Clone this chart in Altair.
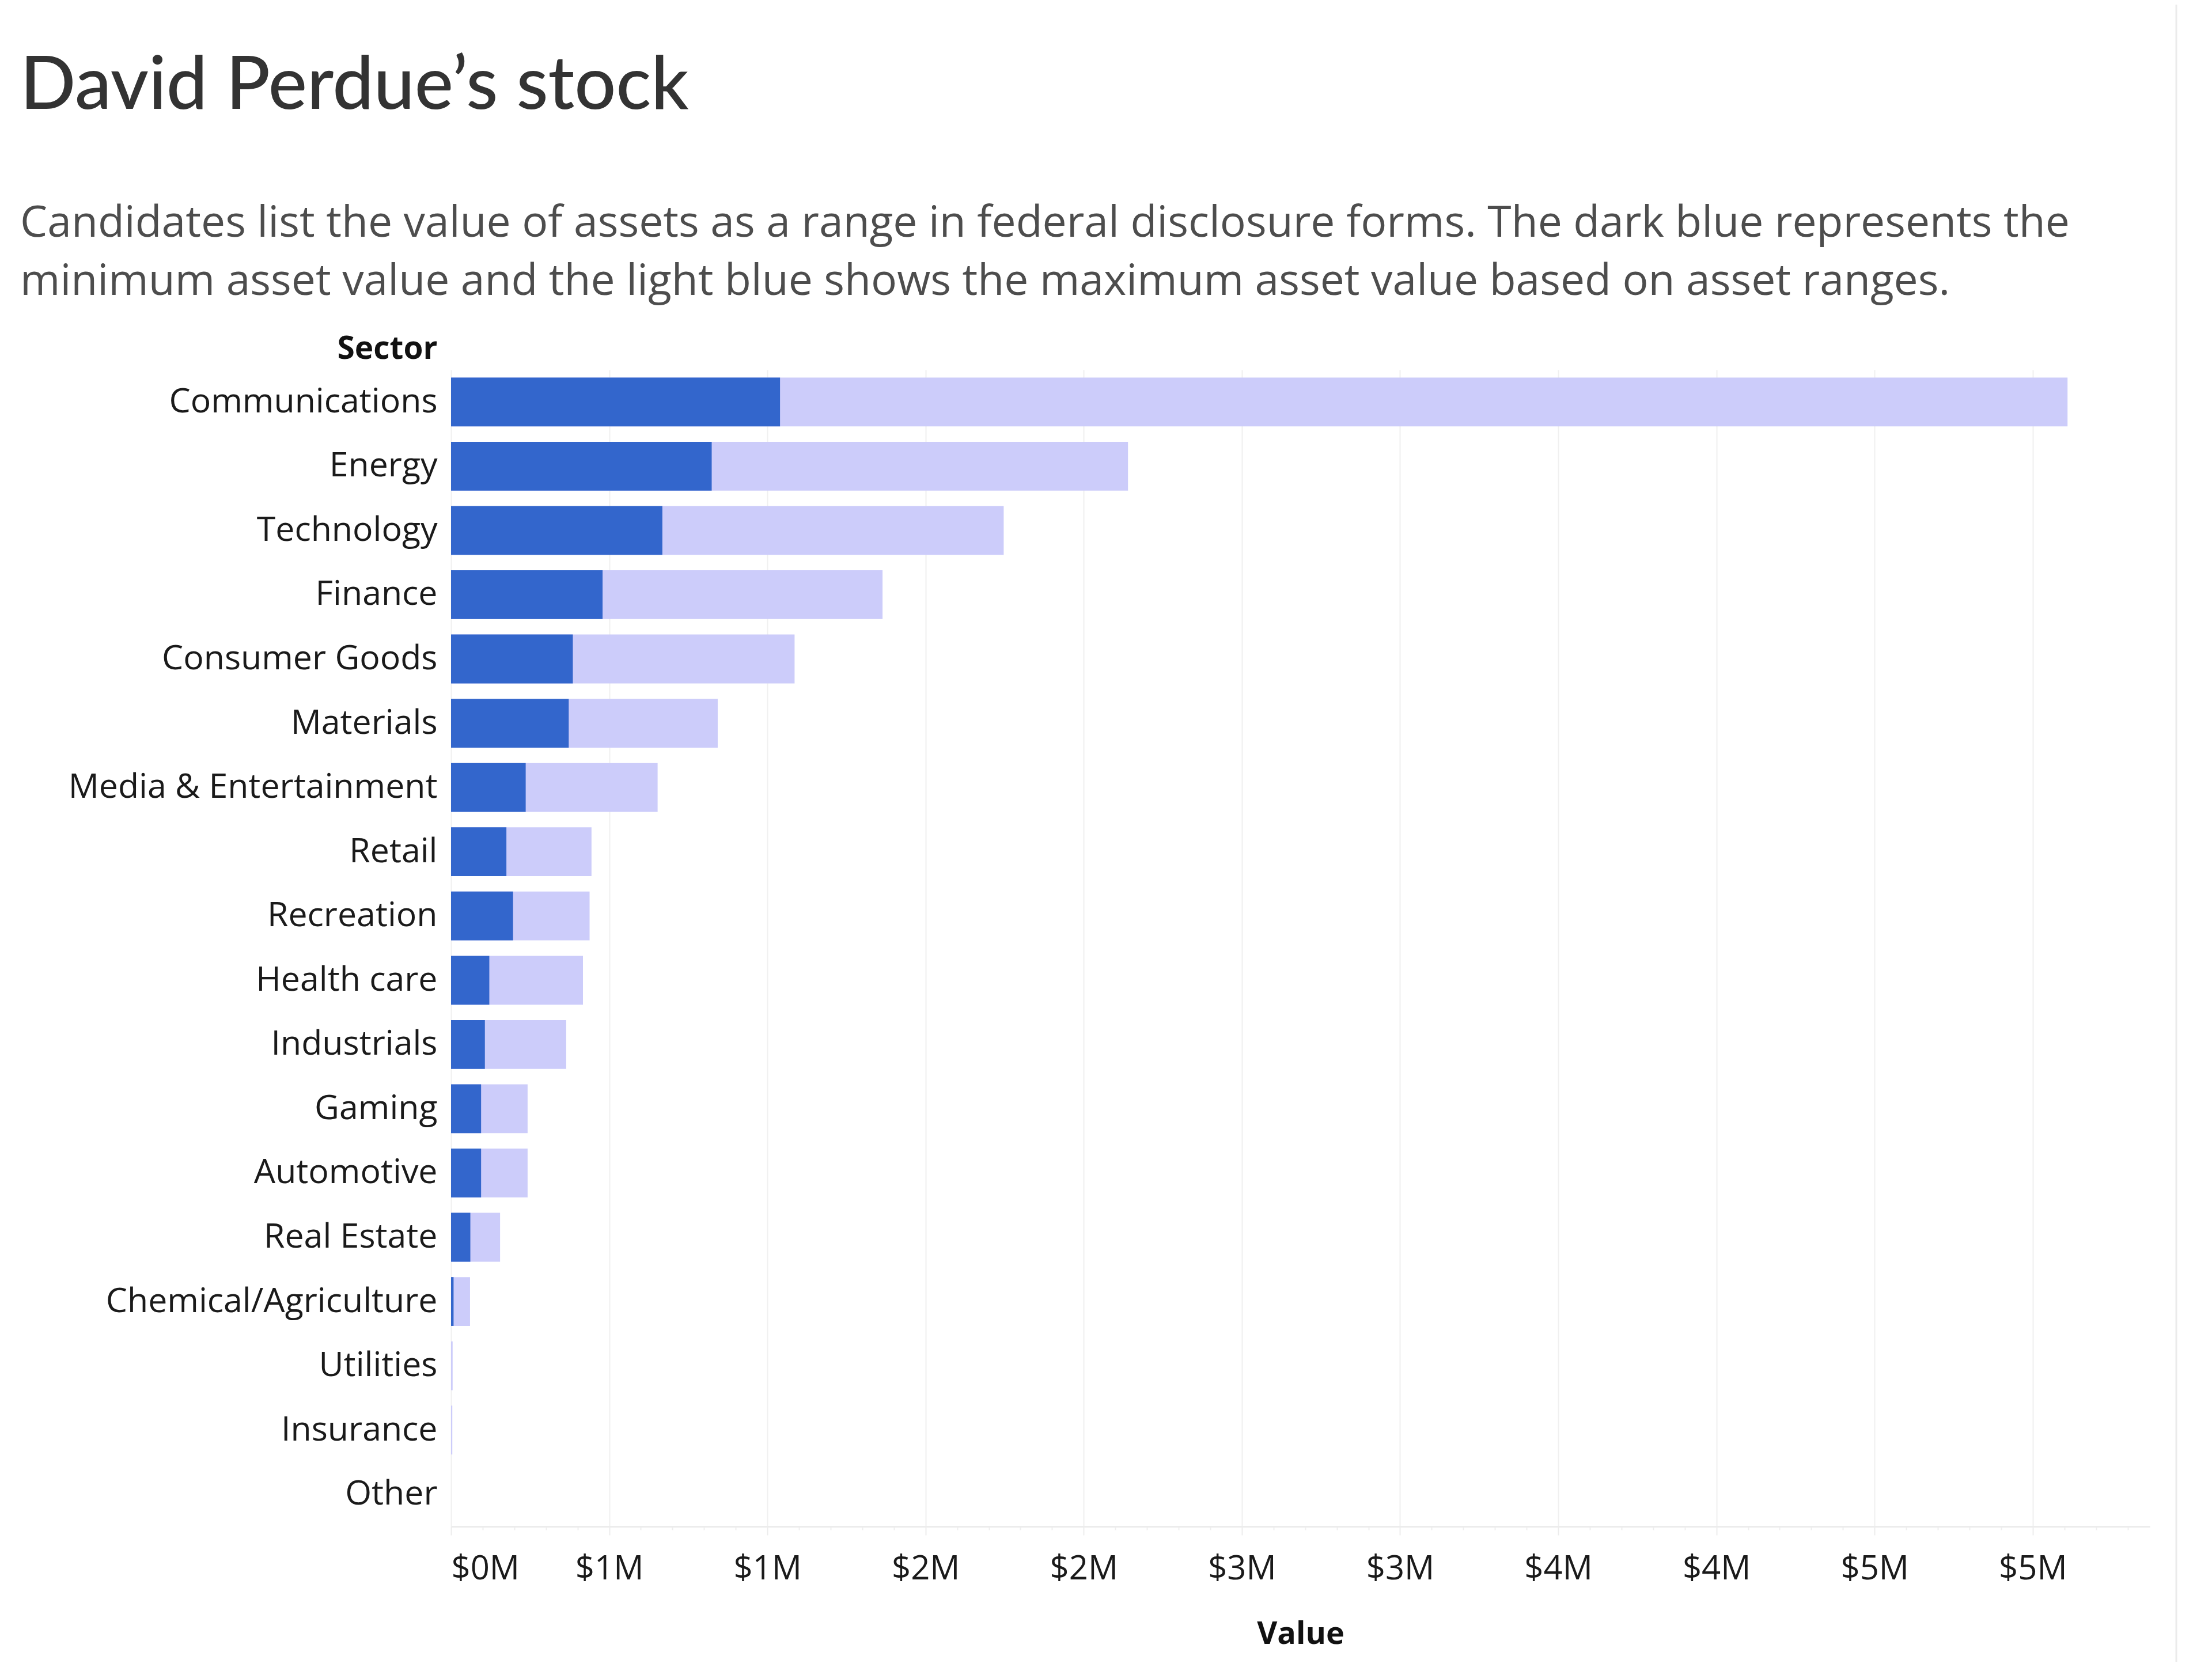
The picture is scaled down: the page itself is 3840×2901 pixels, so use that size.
import altair as alt
import pandas as pd

sectors = ["Communications", "Energy", "Technology", "Finance", "Consumer Goods",
           "Materials", "Media & Entertainment", "Retail", "Recreation", "Health care",
           "Industrials", "Gaming", "Automotive", "Real Estate", "Chemical/Agriculture",
           "Utilities", "Insurance", "Other"]
# values in millions of dollars
min_values = [1.04, 0.824, 0.668, 0.479, 0.385, 0.372, 0.236, 0.175, 0.196, 0.121,
              0.107, 0.095, 0.095, 0.061, 0.008, 0.0, 0.0, 0.0]
max_values = [5.11, 2.14, 1.747, 1.364, 1.086, 0.843, 0.653, 0.444, 0.438, 0.417,
              0.364, 0.242, 0.242, 0.155, 0.060, 0.005, 0.004, 0.0]
major_ticks = [0, 0.5, 1, 1.5, 2, 2.5, 3, 3.5, 4, 4.5, 5]
minor_ticks = [0.1, 0.2, 0.3, 0.4, 0.6, 0.7, 0.8, 0.9, 1.1, 1.2, 1.3, 1.4, 1.6, 1.7, 1.8, 1.9,
               2.1, 2.2, 2.3, 2.4, 2.6, 2.7, 2.8, 2.9, 3.1, 3.2, 3.3, 3.4, 3.6, 3.7, 3.8, 3.9,
               4.1, 4.2, 4.3, 4.4, 4.6, 4.7, 4.8, 4.9, 5.1, 5.2, 5.3]

title_text = "David Perdue’s stock"
subtitle_lines = [
    "Candidates list the value of assets as a range in federal disclosure forms. The dark blue represents the",
    "minimum asset value and the light blue shows the maximum asset value based on asset ranges.",
]

df = pd.DataFrame({"Sector": sectors, "MinValue": min_values, "MaxValue": max_values})

LABEL_FONT = "Open Sans"
x_scale = alt.Scale(domain=[0, 5.37], nice=False, zero=True)
y_enc = alt.Y(
    "Sector:N",
    sort=sectors,
    scale=alt.Scale(paddingInner=0.24, paddingOuter=0.12),
    axis=alt.Axis(
        title="Sector", titleAngle=0, titleAlign="right", titleBaseline="alphabetic",
        titleX=-24, titleY=-20, titleFont=LABEL_FONT, titleFontSize=55, titleFontWeight="bold",
        titleColor="#111111",
        labelFont=LABEL_FONT, labelFontSize=59, labelColor="#1a1a1a",
        labelPadding=24, ticks=False, domain=False, grid=False, labelLimit=1000,
    ),
)

light = alt.Chart(df).mark_bar(color="#ccccfa").encode(
    x=alt.X("MaxValue:Q", scale=x_scale,
            axis=alt.Axis(orient="bottom", values=minor_ticks, labels=False, grid=False,
                          domain=False, ticks=True, tickSize=6, tickColor="#eeeeee",
                          tickWidth=2, title=None)),
    y=y_enc,
)

dark = alt.Chart(df).mark_bar(color="#3366cc").encode(
    x=alt.X("MinValue:Q", scale=x_scale,
            axis=alt.Axis(
                orient="bottom", values=major_ticks,
                labelExpr="'$' + format(datum.value, '.0f') + 'M'",
                labelFlush=True, labelFont=LABEL_FONT, labelFontSize=58,
                labelColor="#1a1a1a",
                labelPadding=30, tickSize=15, tickColor="#ececec", tickWidth=2,
                grid=True, gridColor="#f0f0f0", gridWidth=2,
                domain=True, domainColor="#ececec", domainWidth=3,
                title="Value", titleFont=LABEL_FONT, titleFontSize=54, titleFontWeight="bold",
                titleColor="#111111", titleBaseline="alphabetic", titleY=203,
            )),
    y=y_enc,
)

border = alt.Chart(pd.DataFrame({"v": [0]})).mark_rule(color="#ebebeb", strokeWidth=3).encode(
    x=alt.value(2995), y=alt.value(-640), y2=alt.value(2250)
)

chart = alt.layer(light, dark, border).resolve_axis(x="independent").properties(
    width=2949,
    height=2008,
    padding={"left": 775, "top": 634, "right": 92, "bottom": 235},
    autosize=alt.AutoSizeParams(type="none"),
    background="white",
    title=alt.TitleParams(
        text=title_text,
        subtitle=subtitle_lines,
        anchor="start",
        frame="group",
        dx=-748,
        offset=-528,
        font="Lato",
        fontSize=127,
        fontWeight=500,
        color="#333333",
        subtitleFont="Open Sans",
        subtitleFontSize=75,
        subtitleFontWeight="normal",
        subtitleColor="#4d4d4d",
        subtitleLineHeight=101,
        subtitlePadding=136,
    ),
).configure_view(stroke=None, strokeWidth=0)

chart.save("out.html", embed_options={"renderer": "svg", "actions": False})
